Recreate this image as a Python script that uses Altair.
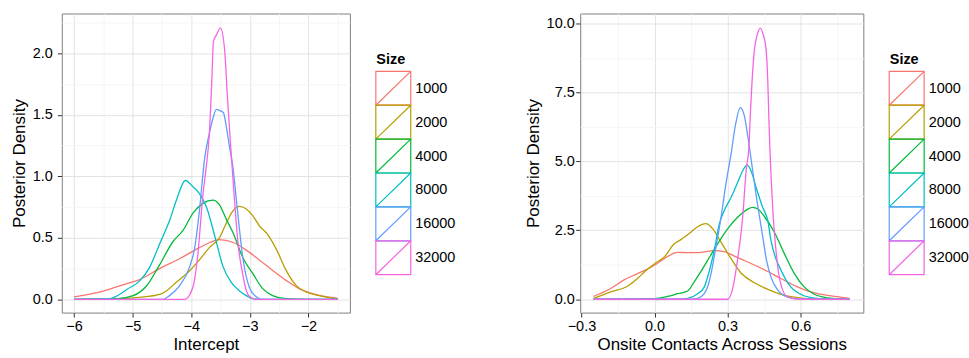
import altair as alt
import pandas as pd

SIZES = ["1000", "2000", "4000", "8000", "16000", "32000"]
COLORS = ["#F8766D", "#B79F00", "#00BA38", "#00BFC4", "#619CFF", "#F564E3"]

# ---- Left panel: Intercept ----
INT_X_1000 = [-6.0, -5.5, -5.1, -4.88, -4.54, -4.2, -3.86, -3.69, -3.52, -3.29, -3.06, -2.84, -2.61, -2.38, -2.16, -1.93, -1.75, -1.5]
INT_Y_1000 = [0.02, 0.067, 0.127, 0.16, 0.25, 0.33, 0.42, 0.46, 0.486, 0.464, 0.40, 0.32, 0.235, 0.154, 0.087, 0.046, 0.025, 0.008]

INT_X_2000 = [-6.0, -5.5, -5.1, -4.8, -4.54, -4.42, -4.25, -4.03, -3.86, -3.69, -3.52, -3.40, -3.30, -3.18, -3.06, -2.95, -2.84, -2.70, -2.55, -2.38, -2.21, -2.04, -1.82, -1.5]
INT_Y_2000 = [0.0, 0.003, 0.008, 0.02, 0.04, 0.07, 0.14, 0.23, 0.32, 0.42, 0.50, 0.62, 0.71, 0.755, 0.735, 0.68, 0.60, 0.53, 0.41, 0.235, 0.113, 0.06, 0.03, 0.003]

INT_X_4000 = [-6.0, -5.3, -4.99, -4.76, -4.54, -4.31, -4.14, -3.97, -3.8, -3.63, -3.52, -3.40, -3.29, -3.12, -2.95, -2.78, -2.61, -2.38, -2.0, -1.5]
INT_Y_4000 = [0.0, 0.003, 0.03, 0.11, 0.28, 0.47, 0.56, 0.70, 0.78, 0.807, 0.77, 0.65, 0.545, 0.34, 0.21, 0.087, 0.03, 0.005, 0.0, 0.0]

INT_X_8000 = [-6.0, -5.39, -5.27, -5.1, -4.88, -4.71, -4.54, -4.37, -4.25, -4.1, -3.98, -3.86, -3.74, -3.59, -3.46, -3.32, -3.18, -3.06, -2.95, -2.7, -1.5]
INT_Y_8000 = [0.0, 0.005, 0.027, 0.08, 0.15, 0.26, 0.45, 0.64, 0.81, 0.966, 0.92, 0.86, 0.75, 0.50, 0.27, 0.14, 0.07, 0.03, 0.005, 0.0, 0.0]

INT_X_16000 = [-6.0, -4.48, -4.37, -4.2, -4.03, -3.94, -3.86, -3.77, -3.69, -3.63, -3.57, -3.49, -3.45, -3.40, -3.35, -3.29, -3.21, -3.12, -3.01, -2.89, -2.8, -1.5]
INT_Y_16000 = [0.0, 0.0, 0.03, 0.11, 0.26, 0.42, 0.72, 1.15, 1.35, 1.47, 1.544, 1.53, 1.517, 1.40, 1.25, 1.08, 0.72, 0.34, 0.10, 0.02, 0.0, 0.0]

INT_X_32000 = [-6.0, -4.11, -3.97, -3.89, -3.80, -3.75, -3.69, -3.65, -3.62, -3.57, -3.50, -3.43, -3.38, -3.32, -3.26, -3.20, -3.12, -3.06, -3.0, -2.9, -1.5]
INT_Y_32000 = [0.0, 0.0, 0.1, 0.35, 0.85, 1.05, 1.35, 1.76, 2.10, 2.15, 2.205, 2.03, 1.63, 1.20, 0.80, 0.45, 0.20, 0.07, 0.02, 0.0, 0.0]

# ---- Right panel: Onsite Contacts Across Sessions ----
ONS_X_1000 = [-0.251, -0.18, -0.125, -0.07, 0.0, 0.04, 0.095, 0.136, 0.177, 0.245, 0.286, 0.328, 0.382, 0.451, 0.519, 0.588, 0.656, 0.725, 0.80]
ONS_Y_1000 = [0.1, 0.39, 0.70, 0.93, 1.23, 1.47, 1.70, 1.69, 1.69, 1.76, 1.73, 1.56, 1.35, 1.07, 0.75, 0.44, 0.23, 0.12, 0.03]

ONS_X_2000 = [-0.25, -0.18, -0.111, -0.07, -0.042, 0.0, 0.04, 0.081, 0.108, 0.149, 0.177, 0.211, 0.239, 0.273, 0.314, 0.355, 0.41, 0.465, 0.519, 0.588, 0.65, 0.8]
ONS_Y_2000 = [0.03, 0.27, 0.47, 0.75, 0.99, 1.29, 1.53, 2.01, 2.16, 2.43, 2.63, 2.74, 2.55, 2.07, 1.47, 0.95, 0.60, 0.36, 0.18, 0.06, 0.01, 0.0]

ONS_X_4000 = [-0.25, 0.0, 0.053, 0.095, 0.136, 0.163, 0.19, 0.218, 0.259, 0.30, 0.341, 0.383, 0.403, 0.424, 0.451, 0.492, 0.533, 0.574, 0.615, 0.656, 0.711, 0.76, 0.8]
ONS_Y_4000 = [0.0, 0.02, 0.1, 0.2, 0.3, 0.63, 1.0, 1.41, 2.01, 2.55, 2.97, 3.27, 3.33, 3.27, 3.0, 2.43, 1.65, 0.93, 0.44, 0.18, 0.05, 0.01, 0.0]

ONS_X_8000 = [-0.25, 0.1, 0.136, 0.177, 0.204, 0.218, 0.245, 0.266, 0.286, 0.314, 0.341, 0.362, 0.38, 0.396, 0.417, 0.444, 0.465, 0.478, 0.519, 0.56, 0.60, 0.656, 0.7, 0.8]
ONS_Y_8000 = [0.0, 0.0, 0.03, 0.2, 0.44, 0.81, 1.77, 2.73, 3.21, 3.69, 4.23, 4.66, 4.86, 4.66, 4.05, 3.33, 2.85, 2.13, 1.05, 0.44, 0.18, 0.04, 0.01, 0.0]

ONS_X_16000 = [-0.25, 0.15, 0.177, 0.204, 0.218, 0.232, 0.252, 0.273, 0.293, 0.314, 0.334, 0.352, 0.369, 0.383, 0.40, 0.42, 0.44, 0.46, 0.478, 0.506, 0.547, 0.6, 0.8]
ONS_Y_16000 = [0.0, 0.0, 0.03, 0.2, 0.45, 0.93, 1.89, 2.97, 4.18, 5.26, 6.4, 6.95, 6.64, 5.9, 4.85, 3.6, 2.5, 1.4, 0.8, 0.33, 0.08, 0.01, 0.0]

ONS_X_32000 = [-0.25, 0.30, 0.321, 0.341, 0.362, 0.376, 0.388, 0.393, 0.40, 0.41, 0.422, 0.434, 0.446, 0.458, 0.465, 0.469, 0.473, 0.485, 0.506, 0.526, 0.547, 0.6, 0.8]
ONS_Y_32000 = [0.0, 0.0, 0.4, 1.45, 3.0, 4.66, 5.6, 6.65, 7.86, 9.05, 9.6, 9.83, 9.6, 9.05, 7.86, 6.65, 5.6, 3.33, 1.17, 0.33, 0.08, 0.0, 0.0]

INT_X = [INT_X_1000, INT_X_2000, INT_X_4000, INT_X_8000, INT_X_16000, INT_X_32000]
INT_Y = [INT_Y_1000, INT_Y_2000, INT_Y_4000, INT_Y_8000, INT_Y_16000, INT_Y_32000]
ONS_X = [ONS_X_1000, ONS_X_2000, ONS_X_4000, ONS_X_8000, ONS_X_16000, ONS_X_32000]
ONS_Y = [ONS_Y_1000, ONS_Y_2000, ONS_Y_4000, ONS_Y_8000, ONS_Y_16000, ONS_Y_32000]

# axis tick values (major + minor grid)
INT_XTICKS = [-6, -5.5, -5, -4.5, -4, -3.5, -3, -2.5, -2, -1.5]
INT_YTICKS = [0, 0.25, 0.5, 0.75, 1.0, 1.25, 1.5, 1.75, 2.0, 2.25]
ONS_XTICKS = [-0.3, -0.15, 0.0, 0.15, 0.3, 0.45, 0.6, 0.75]
ONS_YTICKS = [0, 1.25, 2.5, 3.75, 5.0, 6.25, 7.5, 8.75, 10.0]

MAJOR = "#e3e3e3"
MINOR = "#f5f5f5"
FONT = "Liberation Sans"
# legend key: a box with a diagonal, like ggplot's density key
KEY_SHAPE = "M-1.03,-1L1.03,-1L1.03,1L-1.03,1Z M-1.03,1L1.03,-1"

COLOR_SCALE = alt.Scale(domain=SIZES, range=COLORS)


def long_df(xs, ys):
    rows = []
    for s, xl, yl in zip(SIZES, xs, ys):
        for i, (x, y) in enumerate(zip(xl, yl)):
            rows.append({"Size": s, "x": x, "y": y, "i": i})
    return pd.DataFrame(rows)


def make_axis(values, test, fmt, title, label_pad):
    return alt.Axis(
        values=values,
        title=title,
        labelExpr=f"({test}) ? format(datum.value, '{fmt}') : ''",
        tickOpacity={"condition": {"test": f"!({test})", "value": 0}, "value": 1},
        gridColor={"condition": {"test": test, "value": MAJOR}, "value": MINOR},
        labelPadding=label_pad,
    )


def panel(df, xdom, ydom, xvals, yvals, xtest, ytest, xfmt, yfmt, xtitle, width, ylabpad):
    return (
        alt.Chart(df)
        .mark_line(interpolate="monotone", strokeWidth=1.3, clip=True)
        .encode(
            x=alt.X("x:Q", scale=alt.Scale(domain=xdom, nice=False, zero=False),
                    axis=make_axis(xvals, xtest, xfmt, xtitle, 2)),
            y=alt.Y("y:Q", scale=alt.Scale(domain=ydom, nice=False, zero=False),
                    axis=make_axis(yvals, ytest, yfmt, "Posterior Density", ylabpad)),
            color=alt.Color("Size:N", scale=COLOR_SCALE, legend=None),
            order=alt.Order("i:Q"),
        )
        .properties(width=width, height=300)
    )


def key_column():
    keys = pd.DataFrame({"Size": SIZES})
    return (
        alt.Chart(keys)
        .mark_point(shape=KEY_SHAPE, size=1156, filled=False, strokeWidth=1.2, opacity=1)
        .encode(
            y=alt.Y("Size:N",
                    scale=alt.Scale(type="point", domain=SIZES, range=[58, 262], padding=0.5),
                    axis=alt.Axis(orient="right", title="Size", titleAngle=0, titleAlign="left",
                                  titleBaseline="alphabetic", titleX=-35, titleY=50,
                                  titleFontWeight="bold", titleFontSize=14.5,
                                  ticks=False, tickSize=0, domain=False, grid=False,
                                  labelPadding=4, labelFontSize=14.5)),
            color=alt.Color("Size:N", scale=COLOR_SCALE, legend=None),
        )
        .properties(width=35, height=300, view=alt.ViewConfig(stroke="transparent", fill="transparent"))
    )


left = panel(long_df(INT_X, INT_Y), [-6.209, -1.291], [-0.108, 2.324],
             INT_XTICKS, INT_YTICKS,
             "datum.value % 1 === 0", "(datum.value * 2) % 1 === 0",
             "d", ".1f", "Intercept", 289, 5)

right = panel(long_df(ONS_X, ONS_Y), [-0.305, 0.857], [-0.484, 10.36],
              ONS_XTICKS, ONS_YTICKS,
              "abs(round(datum.value / 0.3) * 0.3 - datum.value) < 0.000001",
              "(datum.value / 2.5) % 1 === 0",
              ".1f", ".1f", "Onsite Contacts Across Sessions", 284, 1.5)

chart = (
    alt.hconcat(
        alt.hconcat(left, key_column(), spacing=22),
        alt.hconcat(right, key_column(), spacing=22),
        spacing=68,
    )
    .properties(padding={"left": 9, "top": 12, "right": 0, "bottom": 0}, background="white")
    .configure_view(stroke="#7f7f7f", strokeWidth=1, fill="white")
    .configure_axis(
        labelFont=FONT, labelFontSize=14.5, labelColor="#000000",
        titleFont=FONT, titleFontSize=17, titleFontWeight="normal", titleColor="#000000",
        titlePadding=4, domain=False, tickColor="#333333", tickSize=4.5, tickWidth=1,
        gridWidth=1,
    )
)

chart.save("out.html", embed_options={"renderer": "svg", "actions": False})
